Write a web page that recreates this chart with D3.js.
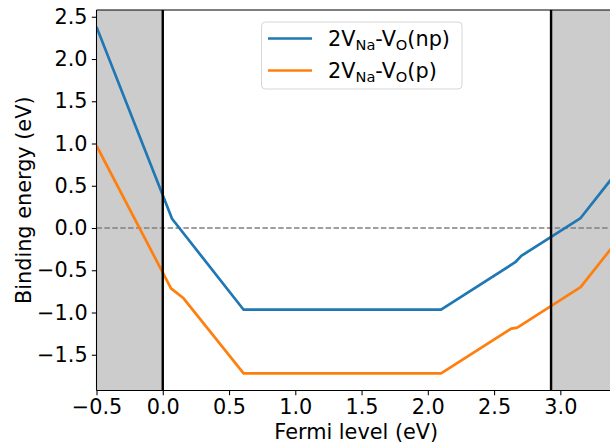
<!DOCTYPE html>
<html>
<head>
<meta charset="utf-8">
<script src="https://cdn.jsdelivr.net/npm/d3@7"></script>
<style>
  html, body { margin: 0; padding: 0; background: #fff; }
  svg text { font-family: "DejaVu Sans", sans-serif; fill: #000; }
</style>
</head>
<body>
<svg id="chart" width="610" height="448"></svg>
<script>
// Binding energy of the 2V_Na-V_O complex versus Fermi level
const fermiNP = [-0.5, 0.07, 0.61, 2.1, 2.66, 2.705, 3.153, 3.42];
const bindNP  = [2.38, 0.11, -0.967, -0.967, -0.405, -0.33, 0.118, 0.65];

const fermiP = [-0.5, 0.062, 0.157, 0.61, 2.1, 2.63, 2.675, 3.153, 3.42];
const bindP  = [0.974, -0.714, -0.832, -1.72, -1.72, -1.19, -1.178, -0.70, -0.17];

// band edges (VBM at 0, CBM)
const vbm = 0.0;
const cbm = 2.93;

const xLimits = [-0.5, 3.42];
const yLimits = [-1.923, 2.58];
const xTicks = [-0.5, 0.0, 0.5, 1.0, 1.5, 2.0, 2.5, 3.0];
const yTicks = [-1.5, -1.0, -0.5, 0.0, 0.5, 1.0, 1.5, 2.0, 2.5];

const seriesNames = ["np", "p"];
const seriesColors = ["#1f77b4", "#ff7f0e"];

const svg = d3.select("#chart");
const mLeft = 96.5, mRight = 616, mTop = 10, mBottom = 390.5;

const x = d3.scaleLinear().domain(xLimits).range([mLeft, mRight]);
const y = d3.scaleLinear().domain(yLimits).range([mBottom, mTop]);

svg.append("defs").append("clipPath").attr("id", "plotclip")
  .append("rect").attr("x", mLeft).attr("y", mTop)
  .attr("width", mRight - mLeft).attr("height", mBottom - mTop);

const plot = svg.append("g").attr("clip-path", "url(#plotclip)");

// shaded regions outside the band gap
plot.append("rect")
  .attr("x", x(xLimits[0])).attr("y", mTop)
  .attr("width", x(vbm) - x(xLimits[0])).attr("height", mBottom - mTop)
  .attr("fill", "#cccccc");
plot.append("rect")
  .attr("x", x(cbm)).attr("y", mTop)
  .attr("width", x(xLimits[1]) - x(cbm)).attr("height", mBottom - mTop)
  .attr("fill", "#cccccc");

// zero reference
plot.append("line")
  .attr("x1", mLeft).attr("x2", mRight)
  .attr("y1", y(0)).attr("y2", y(0))
  .attr("stroke", "#808080").attr("stroke-width", 1.5)
  .attr("stroke-dasharray", "5.5,2.4");

const line = d3.line().x(d => x(d[0])).y(d => y(d[1]));
const series = [
  d3.zip(fermiNP, bindNP),
  d3.zip(fermiP, bindP)
];
series.forEach((pts, i) => {
  plot.append("path")
    .attr("d", line(pts))
    .attr("fill", "none")
    .attr("stroke", seriesColors[i])
    .attr("stroke-width", 2.7)
    .attr("stroke-linejoin", "round")
    .attr("stroke-linecap", "butt");
});

// band-edge markers
[vbm, cbm].forEach(v => {
  plot.append("line")
    .attr("x1", x(v)).attr("x2", x(v))
    .attr("y1", mTop).attr("y2", mBottom)
    .attr("stroke", "#000").attr("stroke-width", 2.4);
});

// axes
const fmt = d3.format(".1f");
const xAxis = d3.axisBottom(x).tickValues(xTicks).tickFormat(fmt)
  .tickSize(4.7).tickPadding(4.2);
const yAxis = d3.axisLeft(y).tickValues(yTicks).tickFormat(fmt)
  .tickSize(4.7).tickPadding(4.2);

const gx = svg.append("g").attr("transform", `translate(0,${mBottom})`).call(xAxis);
const gy = svg.append("g").attr("transform", `translate(${mLeft},0)`).call(yAxis);
[gx, gy].forEach(g => {
  g.select(".domain").remove();
  g.selectAll(".tick line").attr("stroke", "#000").attr("stroke-width", 1.07);
  g.selectAll(".tick text")
    .attr("font-family", "DejaVu Sans").attr("font-size", "20.8px").attr("fill", "#000");
});

// spines
const spine = svg.append("g").attr("stroke", "#000").attr("stroke-width", 1.07)
  .attr("fill", "none");
spine.append("line").attr("x1", mLeft).attr("x2", mLeft).attr("y1", mTop).attr("y2", mBottom);
spine.append("line").attr("x1", mLeft).attr("x2", mRight).attr("y1", mBottom).attr("y2", mBottom);
spine.append("line").attr("x1", mLeft).attr("x2", mRight).attr("y1", mTop).attr("y2", mTop);
spine.append("line").attr("x1", mRight).attr("x2", mRight).attr("y1", mTop).attr("y2", mBottom);

// axis labels
svg.append("text")
  .attr("x", (mLeft + mRight) / 2).attr("y", 439)
  .attr("text-anchor", "middle").attr("font-size", "20.8px")
  .text("Fermi level (eV)");
svg.append("text")
  .attr("transform", `translate(31,${(mTop + mBottom) / 2}) rotate(-90)`)
  .attr("text-anchor", "middle").attr("font-size", "20.8px")
  .text("Binding energy (eV)");

// legend
const legend = svg.append("g");
legend.append("rect")
  .attr("x", 261.5).attr("y", 22).attr("width", 200.5).attr("height", 67)
  .attr("rx", 4).attr("ry", 4)
  .attr("fill", "#fff").attr("fill-opacity", 0.8)
  .attr("stroke", "#d6d6d6").attr("stroke-width", 1);
seriesNames.forEach((name, i) => {
  const cy = 38.5 + i * 32;
  legend.append("line")
    .attr("x1", 268).attr("x2", 312).attr("y1", cy).attr("y2", cy)
    .attr("stroke", seriesColors[i]).attr("stroke-width", 2.7);
  const t = legend.append("text")
    .attr("x", 328).attr("y", cy + 7.6).attr("font-size", "20.8px");
  t.append("tspan").text("2V");
  t.append("tspan").attr("font-size", "14.6px").attr("dy", 4).text("Na");
  t.append("tspan").attr("dy", -4).text("-V");
  t.append("tspan").attr("font-size", "14.6px").attr("dy", 4).text("O");
  t.append("tspan").attr("dy", -4).text(`(${name})`);
});
</script>
</body>
</html>
